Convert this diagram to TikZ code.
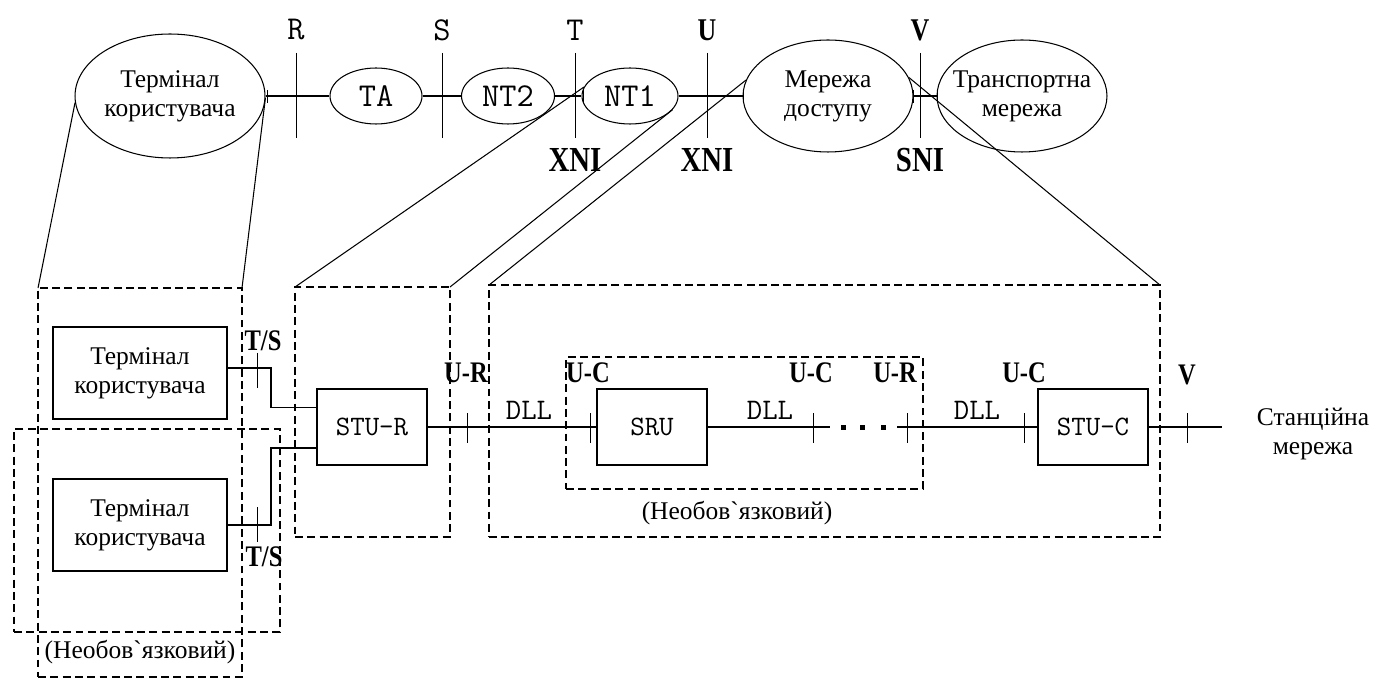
\documentclass[tikz,border=0pt]{standalone}
\usepackage{fontspec}
\setmainfont{Liberation Serif}[Ligatures=TeXOff]
\newfontfamily\condbf{Liberation Serif}[UprightFont=* Bold, FakeStretch=0.82]
\usetikzlibrary{shapes.geometric,positioning}
\tikzset{
  ell/.style={draw, ellipse, inner sep=0pt, line width=0.6pt},
  blk/.style={
    draw, rectangle, align=center, line width=1.1pt,
    font=\fontsize{14.5}{16.5}\selectfont,
    minimum width=3.48cm, minimum height=1.84cm
  },
  unit/.style={
    draw, rectangle, line width=1.1pt, font=\ttfamily\fontsize{16}{18}\selectfont,
    minimum width=2.2cm, minimum height=1.52cm
  },
  grp/.style={draw, dash pattern=on 4.5pt off 2.5pt, line width=0.8pt, inner sep=0pt, outer sep=0pt},
  wire/.style={line width=0.9pt},
  proj/.style={line width=0.6pt},
  txt/.style={align=center, font=\fontsize{14.5}{16.5}\selectfont},
  mlbl/.style={font=\ttfamily\fontsize{19}{21}\selectfont, inner sep=0pt},
  dll/.style={font=\ttfamily\fontsize{17}{19}\selectfont, inner sep=0pt},
  blbl/.style={font=\condbf\fontsize{20}{22}\selectfont, inner sep=0pt},
  ilbl/.style={font=\condbf\fontsize{17}{19}\selectfont, inner sep=0pt},
}

\begin{document}
\begin{tikzpicture}[x=0.02cm, y=-0.02cm]
  \useasboundingbox (0,0) rectangle (1378,685);

  % reference points
  \node[ell, minimum width=3.8cm, minimum height=2.48cm,
    label={[txt]center:Термінал\\користувача}] (term) at (170,96) {};
  \node[ell, mlbl, minimum width=1.84cm, minimum height=1.12cm] (ta) at (376,96) {TA};
  \node[ell, mlbl, minimum width=1.86cm, minimum height=1.12cm] (nt2) at (508,96) {NT2};
  \node[ell, mlbl, minimum width=1.92cm, minimum height=1.12cm] (nt1) at (630,96) {NT1};
  \node[ell, minimum width=3.4cm, minimum height=2.24cm,
    label={[txt]center:Мережа\\доступу}] (acc) at (828,96) {};
  \node[ell, minimum width=3.4cm, minimum height=2.24cm,
    label={[txt]center:Транспортна\\мережа}] (tr) at (1022,96) {};
  \draw[wire] (term) -- (ta) -- (nt2) -- (nt1) -- (acc) -- (tr);
  \foreach \x in {267,583,743,913,937}
    \draw (\x,90) -- (\x,103);

  \foreach \x/\n in {296/R,442/S,575/T} {
    \draw (\x,53) -- (\x,138);
    \node[mlbl] (pt\n) at (\x,30) {\n};
  }
  \foreach \x/\n in {707/U,920/V} {
    \draw (\x,53) -- (\x,138);
    \node[blbl, font=\condbf\fontsize{18}{20}\selectfont] (pt\n) at (\x,30) {\n};
  }
  \node[blbl] (xni1) at (575,160) {XNI};
  \node[blbl] (xni2) at (707,160) {XNI};
  \node[blbl] (sni) at (920,160) {SNI};

  % access arrangement
  \node[grp, minimum width=4.08cm, minimum height=7.78cm] (grpA) at (140,482.5) {};
  \node[grp, minimum width=5.32cm, minimum height=4.06cm] (grpB) at (147,530.5) {};
  \node[grp, minimum width=3.1cm, minimum height=5cm] (grpC) at (372.5,412) {};
  \node[grp, minimum width=13.42cm, minimum height=5.04cm] (grpD) at (824.5,411) {};
  \node[grp, minimum width=7.14cm, minimum height=2.64cm] (grpE) at (744.5,423) {};
  \node[txt] (optA) at (140,652) {(Необов`язковий)};
  \node[txt] (optE) at (737,513) {(Необов`язковий)};

  \draw[proj] (term.184) -- (grpA.north west);
  \draw[proj] (term.359) -- (grpA.north east);
  \draw[proj] (nt1.169) -- (grpC.north west);
  \draw[proj] (nt1.342) -- (grpC.north east);
  \draw[proj] (acc.169) -- (grpD.north west);
  \draw[proj] (acc.13) -- (grpD.north east);

  \node[blk] (term1) at (140,373) {Термінал\\користувача};
  \node[blk] (term2) at (140,525) {Термінал\\користувача};
  \node[unit] (stur) at (372,427) {STU-R};
  \node[unit] (sru) at (652,427) {SRU};
  \node[unit] (stuc) at (1093,427) {STU-C};
  \node[txt] (stnet) at (1313,434) {Станційна\\мережа};

  \draw[wire] ([yshift=3pt]term1.east) -- ++(43,0) |- ([yshift=11pt]stur.west);
  \draw[wire] (term2.east) -- ++(43,0) |- ([yshift=-12pt]stur.west);
  \draw (257,353) -- (257,388);
  \draw (257,507) -- (257,542);
  \node[ilbl] (ts1) at (263,341) {T/S};
  \node[ilbl] (ts2) at (264,557) {T/S};

  \coordinate (dl) at (830,427);
  \coordinate (dr) at (897,427);
  \coordinate (netend) at (1222,427);
  \draw[wire] (stur) -- (sru);
  \draw[wire] (sru) -- (dl);
  \draw[wire] (dr) -- (stuc);
  \draw[wire] (stuc) -- (netend);
  \foreach \x in {843,862,883}
    \fill (\x-2.5,424.5) rectangle ++(5,5);
  \foreach \x in {467,590,813,907,1024,1187}
    \draw (\x,413) -- (\x,443);

  \node[ilbl] (ur1) at (466,373) {U-R};
  \node[ilbl] (uc1) at (588,373) {U-C};
  \node[ilbl] (uc2) at (811,373) {U-C};
  \node[ilbl] (ur2) at (895,373) {U-R};
  \node[ilbl] (uc3) at (1024,373) {U-C};
  \node[ilbl] (vst) at (1187,375) {V};
  \node[dll] (dll1) at (529,410) {DLL};
  \node[dll] (dll2) at (770,410) {DLL};
  \node[dll] (dll3) at (977,410) {DLL};
\end{tikzpicture}
\end{document}
